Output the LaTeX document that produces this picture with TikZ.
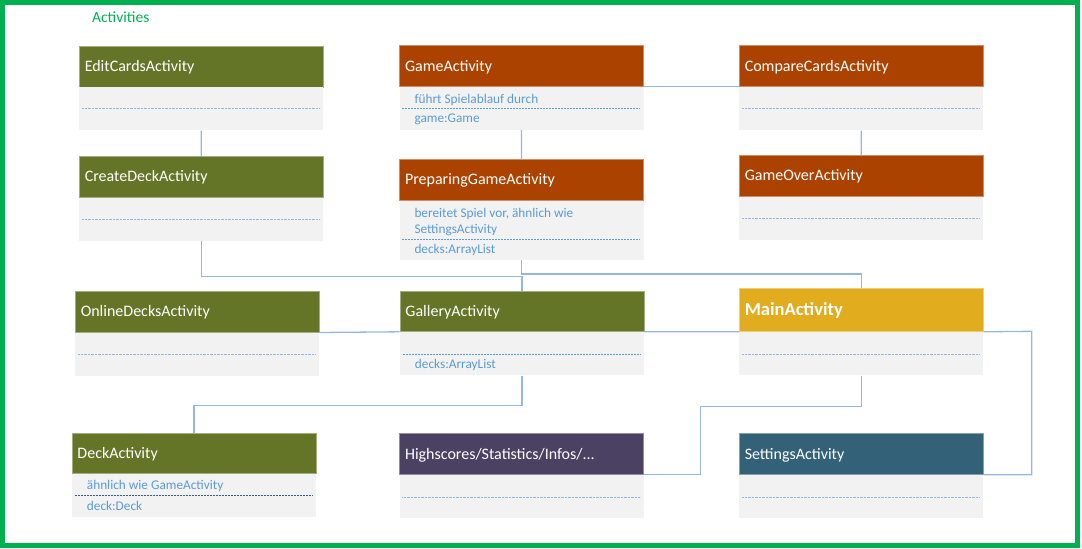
\documentclass[tikz,border=0pt]{standalone}
\usepackage{fontspec}
\setmainfont{Carlito}
\usetikzlibrary{calc}
\definecolor{cOlive}{HTML}{647527}
\definecolor{cRust}{HTML}{AC4200}
\definecolor{cGold}{HTML}{E1AC1E}
\definecolor{cPlum}{HTML}{4A4163}
\definecolor{cTeal}{HTML}{336177}
\definecolor{cBody}{HTML}{F2F2F2}
\definecolor{cLink}{HTML}{95B7DE}
\definecolor{cTxt}{HTML}{5B9BD5}
\definecolor{cFrame}{HTML}{00B050}
\tikzset{
  hdr/.style={anchor=north west, rectangle, minimum height=41pt, text width=233pt,
    inner xsep=5.5pt, inner ysep=0pt, align=left, text=white, text depth=1pt,
    font=\fontsize{16}{18}\selectfont, fill=#1, draw=#1!60!white, line width=0.5pt},
  bdy/.style={anchor=north west, rectangle, minimum width=244pt, minimum height=#1,
    inner sep=0pt, fill=cBody},
  sepl/.style={draw=cLink, line width=0.8pt, dash pattern=on 0.8pt off 0.6pt},
  sepd/.style={draw=cTxt, line width=0.8pt, dash pattern=on 2pt off 1pt},
  btxt/.style={anchor=west, inner sep=0pt, text=cTxt, yshift=-0.8pt, font=\fontsize{13.3}{15}\selectfont},
  link/.style={draw=cLink, line width=1.3pt},
}
\begin{document}
\begin{tikzpicture}[x=1pt,y=-1pt]
\useasboundingbox (0,0) rectangle (1082,549);
\draw[cFrame, line width=5pt] (2.5,2.5) rectangle (1077.5,545);
\node[anchor=west, inner sep=0pt, text=cFrame, font=\fontsize{15.5}{18}\selectfont] (title) at (92,17.5) {Activities};

% EditCards
\node[hdr=cOlive] (editH) at (79,45.7) {EditCardsActivity};
\node[bdy=43pt] (editB) at (editH.south west) {};
\draw[sepl] ($(editB.north west)+(3,21.6)$) -- ++(238,0);
% CreateDeck
\node[hdr=cOlive] (createH) at (79,156) {CreateDeckActivity};
\node[bdy=43pt] (createB) at (createH.south west) {};
\draw[sepl] ($(createB.north west)+(3,22.3)$) -- ++(238,0);
% Game
\node[hdr=cRust] (gameH) at (399.3,45.3) {GameActivity};
\node[bdy=42.6pt] (gameB) at (gameH.south west) {};
\node[btxt] (gameT1) at ($(gameB.north west)+(15,12.3)$) {führt Spielablauf durch};
\draw[sepd] ($(gameB.north west)+(3,22)$) -- ++(238,0);
\node[btxt] (gameT2) at ($(gameB.north west)+(15,31.6)$) {game:Game};
% PreparingGame
\node[hdr=cRust] (prepH) at (399.3,159) {PreparingGameActivity};
\node[bdy=59.4pt] (prepB) at (prepH.south west) {};
\node[btxt] (prepT1) at ($(prepB.north west)+(15,13)$) {bereitet Spiel vor, ähnlich wie};
\node[btxt] (prepT2) at ($(prepB.north west)+(15,29)$) {SettingsActivity};
\draw[sepd] ($(prepB.north west)+(3,38.4)$) -- ++(238,0);
\node[btxt] (prepT3) at ($(prepB.north west)+(15,49)$) {decks:ArrayList};
% CompareCards
\node[hdr=cRust] (compareH) at (739,45.3) {CompareCardsActivity};
\node[bdy=43.3pt] (compareB) at (compareH.south west) {};
\draw[sepl] ($(compareB.north west)+(3,22)$) -- ++(238,0);
% GameOver
\node[hdr=cRust] (overH) at (739,155) {GameOverActivity};
\node[bdy=43pt] (overB) at (overH.south west) {};
\draw[sepl] ($(overB.north west)+(3,21.7)$) -- ++(238,0);
% OnlineDecks
\node[hdr=cOlive] (onlineH) at (75,291) {OnlineDecksActivity};
\node[bdy=43pt] (onlineB) at (onlineH.south west) {};
\draw[sepl] ($(onlineB.north west)+(3,21.6)$) -- ++(238,0);
% Gallery
\node[hdr=cOlive, minimum height=40.3pt] (galleryH) at (399.7,291) {GalleryActivity};
\node[bdy=43.4pt] (galleryB) at (galleryH.south west) {};
\draw[sepd] ($(galleryB.north west)+(3,22.4)$) -- ++(238,0);
\node[btxt] (galleryT1) at ($(galleryB.north west)+(15,32.7)$) {decks:ArrayList};
% Main
\node[hdr=cGold, minimum height=43.6pt, font=\fontsize{18.5}{22}\bfseries] (mainH) at (739,287.7) {MainActivity};
\node[bdy=43.4pt] (mainB) at (mainH.south west) {};
\draw[sepl] ($(mainB.north west)+(3,22.4)$) -- ++(238,0);
% Deck
\node[hdr=cOlive, minimum height=40.6pt] (deckH) at (71.7,432.7) {DeckActivity};
\node[bdy=42.7pt] (deckB) at (deckH.south west) {};
\node[btxt] (deckT1) at ($(deckB.north west)+(15,11.4)$) {ähnlich wie GameActivity};
\draw[sepd, draw=cTxt!60!black] ($(deckB.north west)+(3,22)$) -- ++(238,0);
\node[btxt] (deckT2) at ($(deckB.north west)+(15,31.7)$) {deck:Deck};
% Highscores
\node[hdr=cPlum] (highH) at (399.3,433.3) {Highscores/Statistics/Infos/...};
\node[bdy=43.2pt] (highB) at (highH.south west) {};
\draw[sepl] ($(highB.north west)+(3,22.4)$) -- ++(238,0);
% Settings
\node[hdr=cTeal] (setH) at (739,433.3) {SettingsActivity};
\node[bdy=43.2pt] (setB) at (setH.south west) {};
\draw[sepl] ($(setB.north west)+(3,22.4)$) -- ++(238,0);

% connectors
\draw[link] (editB.south) -- (createH.north);
\draw[link] (gameB.south) -- (prepH.north);
\draw[link] (compareB.south) -- (overH.north);
\draw[link] (gameH.south east) -- (compareH.south west);
\draw[link] (createB.south) |- ([yshift=14.3pt]galleryH.north) -- (galleryH.north);
\draw[link] (prepB.south) |- ([yshift=13.7pt]mainH.north) -- (mainH.north);
\draw[link] (onlineH.south east) -- (galleryH.south west);
\draw[link] (galleryH.south east) -- (mainH.south west);
\draw[link] (galleryB.south) |- ([yshift=27.2pt]deckH.north) -- (deckH.north);
\coordinate (k1) at (700.7,406.7);
\draw[link] (mainB.south) |- (k1) |- (highH.south east);
\coordinate (k2) at (1031.7,331.3);
\draw[link] (mainH.south east) -- (k2) |- (setH.south east);
\end{tikzpicture}
\end{document}
